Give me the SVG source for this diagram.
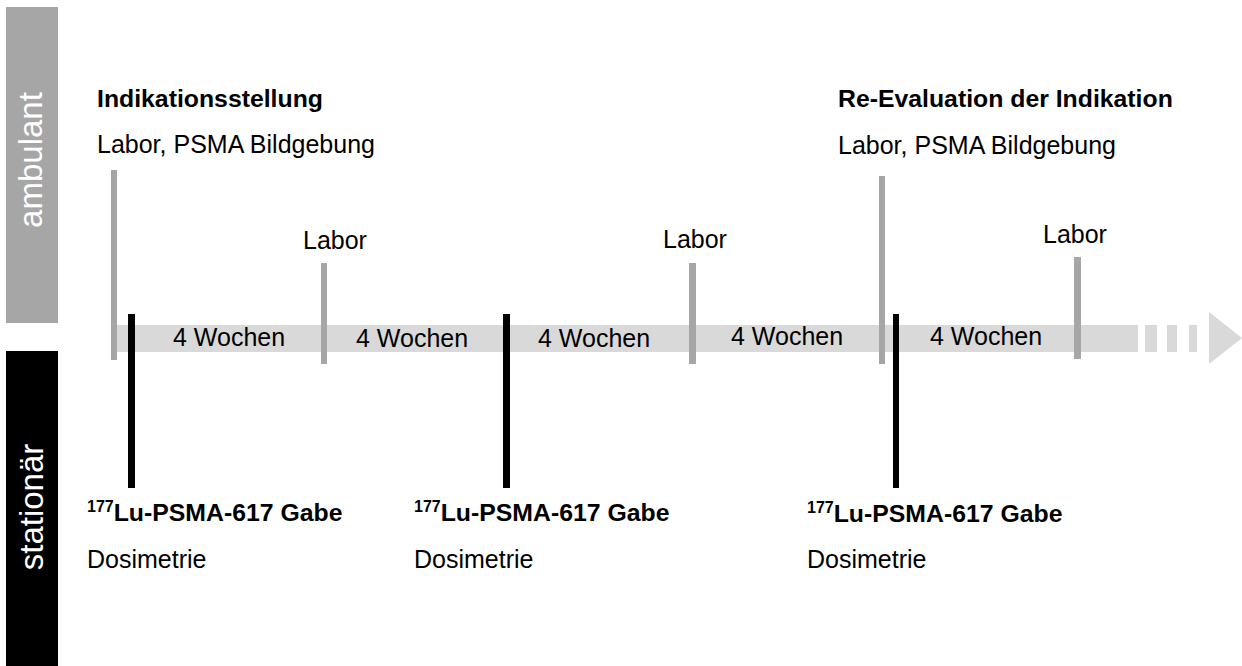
<svg xmlns="http://www.w3.org/2000/svg" width="1242" height="666" viewBox="0 0 1242 666">
  <style>
    text { font-family: "Liberation Sans", Arial, sans-serif; fill: #000; }
    .r { font-size: 25px; }
    .b { font-size: 24.8px; font-weight: bold; }
    .side { font-size: 33px; fill: #fff; text-anchor: middle; }
    .sup { font-size: 16px; }
    .gl { fill: #a6a6a6; }
    .bl { fill: #000; }
    .bar { fill: #d9d9d9; }
  </style>
  <rect width="1242" height="666" fill="#fff"/>

  <g id="lane-ambulant">
    <rect x="6" y="7" width="52" height="316" fill="#a6a6a6"/>
    <text class="side" transform="translate(42,160) rotate(-90)">ambulant</text>
  </g>
  <g id="lane-stationaer">
    <rect x="6" y="351" width="52" height="315" fill="#000"/>
    <text class="side" transform="translate(43,507) rotate(-90)">stationär</text>
  </g>

  <g id="connectors">
    <rect class="bar" x="114" y="325" width="1024" height="27"/>
    <rect class="bar" x="1145" y="325" width="12" height="27"/>
    <rect class="bar" x="1167" y="325" width="10" height="27"/>
    <rect class="bar" x="1189" y="325" width="8" height="27"/>
    <polygon class="bar" points="1209,312 1242,338 1209,364"/>
  </g>

  <g id="intervals">
    <text class="r" x="173" y="346">4 Wochen</text>
    <text class="r" x="356" y="347">4 Wochen</text>
    <text class="r" x="538" y="347">4 Wochen</text>
    <text class="r" x="731" y="345">4 Wochen</text>
    <text class="r" x="930" y="345">4 Wochen</text>
  </g>

  <g id="node-indikation">
    <rect class="gl" x="111" y="170" width="6" height="190"/>
    <text class="b" x="97" y="107">Indikationsstellung</text>
    <text class="r" x="97" y="153">Labor, PSMA Bildgebung</text>
  </g>
  <g id="node-labor1">
    <rect class="gl" x="321" y="263" width="6" height="101"/>
    <text class="r" x="303" y="249">Labor</text>
  </g>
  <g id="node-labor2">
    <rect class="gl" x="689" y="263" width="7" height="101"/>
    <text class="r" x="663" y="248">Labor</text>
  </g>
  <g id="node-reevaluation">
    <rect class="gl" x="879" y="176" width="6" height="188"/>
    <text class="b" x="838" y="107">Re-Evaluation der Indikation</text>
    <text class="r" x="838" y="154">Labor, PSMA Bildgebung</text>
  </g>
  <g id="node-labor3">
    <rect class="gl" x="1074" y="257" width="7" height="102"/>
    <text class="r" x="1043" y="243">Labor</text>
  </g>

  <g id="node-gabe1">
    <rect class="bl" x="128" y="314" width="7" height="174"/>
    <text class="b" x="87" y="521"><tspan class="sup" dy="-9">177</tspan><tspan dy="9">Lu-PSMA-617 Gabe</tspan></text>
    <text class="r" x="87" y="568">Dosimetrie</text>
  </g>
  <g id="node-gabe2">
    <rect class="bl" x="503" y="314" width="7" height="174"/>
    <text class="b" x="414" y="521"><tspan class="sup" dy="-9">177</tspan><tspan dy="9">Lu-PSMA-617 Gabe</tspan></text>
    <text class="r" x="414" y="568">Dosimetrie</text>
  </g>
  <g id="node-gabe3">
    <rect class="bl" x="893" y="314" width="6" height="174"/>
    <text class="b" x="807" y="522"><tspan class="sup" dy="-9">177</tspan><tspan dy="9">Lu-PSMA-617 Gabe</tspan></text>
    <text class="r" x="807" y="568">Dosimetrie</text>
  </g>
</svg>
